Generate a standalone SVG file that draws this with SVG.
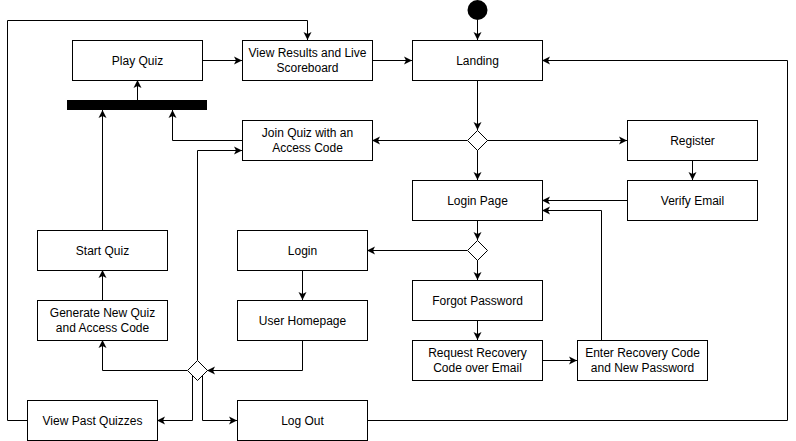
<svg xmlns="http://www.w3.org/2000/svg" width="796" height="441" viewBox="0 0 796 441">
<defs>
<marker id="arr" markerUnits="userSpaceOnUse" markerWidth="9" markerHeight="9" viewBox="0 0 9 9" refX="8" refY="4.5" orient="auto">
<path d="M0,0.5 L8,4.5 L0,8.5 L2,4.5 z" fill="#000"/>
</marker>
</defs>
<style>
.n rect, .n path.d { fill:#fff; stroke:#000; stroke-width:1; }
.n text { font-family:"Liberation Sans", Arial, sans-serif; font-size:12px; fill:#000; text-anchor:middle; }
#connectors path { fill:none; stroke:#000; stroke-width:1; marker-end:url(#arr); }
</style>
<rect x="0" y="0" width="796" height="441" fill="#fff"/>
<g id="connectors">
<path d="M477.5,20 V40"/>
<path d="M202,60.5 H242"/>
<path d="M372,60.5 H412"/>
<path d="M477.5,80 V130"/>
<path d="M487,140.5 H627"/>
<path d="M467,140.5 H372"/>
<path d="M477.5,150 V180"/>
<path d="M692.5,160 V180"/>
<path d="M627,200.5 H542"/>
<path d="M601.5,340 V210.5 H542"/>
<path d="M477.5,220 V240"/>
<path d="M467,250.5 H367"/>
<path d="M477.5,260 V280"/>
<path d="M477.5,320 V340"/>
<path d="M542,360.5 H577"/>
<path d="M302.5,270 V300"/>
<path d="M302.5,340 V370.5 H207"/>
<path d="M187,370.5 H102.5 V340"/>
<path d="M197.5,360 V150.5 H242"/>
<path d="M192.5,375 V420.5 H157"/>
<path d="M202.5,375 V420.5 H237"/>
<path d="M367,420.5 H787.5 V60.5 H542"/>
<path d="M27,420.5 H7.5 V20.5 H307.5 V40"/>
<path d="M102.5,300 V270"/>
<path d="M102.5,230 V110"/>
<path d="M242,140.5 H172.5 V110"/>
<path d="M137.5,100 V80"/>
</g>
<g id="start" class="n"><circle cx="477.5" cy="10" r="10" fill="#000"/></g>
<g id="bar" class="n"><rect x="67" y="100" width="140" height="10" style="fill:#000;stroke:none"/></g>
<g id="play-quiz" class="n"><rect x="72.5" y="40.5" width="130" height="40"/><text x="137.5" y="64.5">Play Quiz</text></g>
<g id="view-results" class="n"><rect x="242.5" y="40.5" width="130" height="40"/><text x="307.5" y="57">View Results and Live</text><text x="307.5" y="72">Scoreboard</text></g>
<g id="landing" class="n"><rect x="412.5" y="40.5" width="130" height="40"/><text x="477.5" y="64.5">Landing</text></g>
<g id="join-quiz" class="n"><rect x="242.5" y="120.5" width="130" height="40"/><text x="307.5" y="137">Join Quiz with an</text><text x="307.5" y="152">Access Code</text></g>
<g id="decision1" class="n"><path class="d" d="M477.5,130.5 L487.5,140.5 L477.5,150.5 L467.5,140.5 z"/></g>
<g id="register" class="n"><rect x="627.5" y="120.5" width="130" height="40"/><text x="692.5" y="144.5">Register</text></g>
<g id="login-page" class="n"><rect x="412.5" y="180.5" width="130" height="40"/><text x="477.5" y="204.5">Login Page</text></g>
<g id="verify-email" class="n"><rect x="627.5" y="180.5" width="130" height="40"/><text x="692.5" y="204.5">Verify Email</text></g>
<g id="decision2" class="n"><path class="d" d="M477.5,240.5 L487.5,250.5 L477.5,260.5 L467.5,250.5 z"/></g>
<g id="start-quiz" class="n"><rect x="37.5" y="230.5" width="130" height="40"/><text x="102.5" y="254.5">Start Quiz</text></g>
<g id="login" class="n"><rect x="237.5" y="230.5" width="130" height="40"/><text x="302.5" y="254.5">Login</text></g>
<g id="forgot-password" class="n"><rect x="412.5" y="280.5" width="130" height="40"/><text x="477.5" y="304.5">Forgot Password</text></g>
<g id="generate-quiz" class="n"><rect x="37.5" y="300.5" width="130" height="40"/><text x="102.5" y="317">Generate New Quiz</text><text x="102.5" y="332">and Access Code</text></g>
<g id="user-homepage" class="n"><rect x="237.5" y="300.5" width="130" height="40"/><text x="302.5" y="324.5">User Homepage</text></g>
<g id="request-recovery" class="n"><rect x="412.5" y="340.5" width="130" height="40"/><text x="477.5" y="357">Request Recovery</text><text x="477.5" y="372">Code over Email</text></g>
<g id="enter-recovery" class="n"><rect x="577.5" y="340.5" width="130" height="40"/><text x="642.5" y="357">Enter Recovery Code</text><text x="642.5" y="372">and New Password</text></g>
<g id="decision3" class="n"><path class="d" d="M197.5,360.5 L207.5,370.5 L197.5,380.5 L187.5,370.5 z"/></g>
<g id="view-past" class="n"><rect x="27.5" y="400.5" width="130" height="40"/><text x="92.5" y="424.5">View Past Quizzes</text></g>
<g id="log-out" class="n"><rect x="237.5" y="400.5" width="130" height="40"/><text x="302.5" y="424.5">Log Out</text></g>
</svg>
